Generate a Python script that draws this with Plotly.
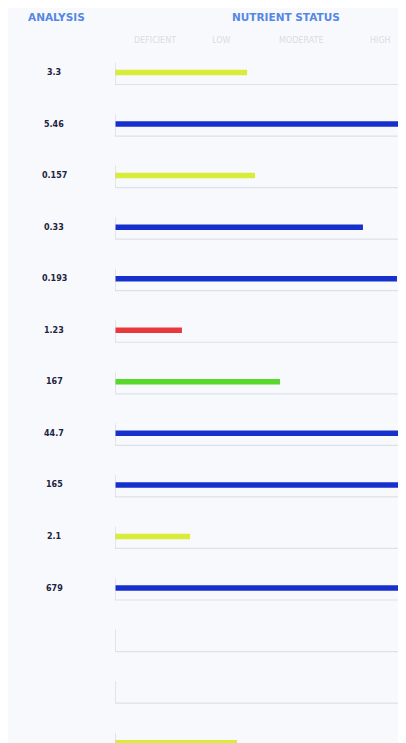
import plotly.graph_objects as go

analysis_labels = ["3.3", "5.46", "0.157", "0.33", "0.193", "1.23", "167",
                   "44.7", "165", "2.1", "679", "", "", ""]
status_values = [45.4, 100, 48.1, 85.2, 96.9, 23.0, 56.7,
                 100, 100, 25.8, 100, None, None, 41.9]
status_levels = ["low", "high", "low", "high", "high", "deficient", "moderate",
                 "high", "high", "low", "high", None, None, "low"]
scale_labels = ["DEFICIENT", "LOW", "MODERATE", "HIGH"]
scale_pos = [13.7, 36.4, 63.9, 91.4]

level_colors = {"low": "#d8ec3a", "high": "#1530cc", "deficient": "#e8383c",
                "moderate": "#58d82a"}

OFF = 8  # page body margin
W, H = 406 - 2 * OFF, 743 - OFF
rows = list(range(len(analysis_labels)))
px_row = 51.55
px_per_unit = 2.91
top_px = 72.5 - OFF
y_top = -top_px / px_row
y_bot = (H - top_px) / px_row
off_base = 12 / px_row
off_tick = -10 / px_row
plot_left = 115 - OFF
x_max = (W - plot_left) / px_per_unit

fig = go.Figure()

bx, by = [], []
for r in rows:
    bx += [0, 100, None]
    by += [r + off_base, r + off_base, None]
fig.add_trace(go.Scatter(x=bx, y=by, mode="lines",
                         line=dict(color="#dde1ea", width=1.2),
                         hoverinfo="skip", showlegend=False))
tx, ty = [], []
for r in rows:
    tx += [0, 0, None]
    ty += [r + off_tick, r + off_base, None]
fig.add_trace(go.Scatter(x=tx, y=ty, mode="lines",
                         line=dict(color="#d2d6e0", width=1.2),
                         hoverinfo="skip", showlegend=False))

bar_rows = [r for r in rows if status_values[r] is not None]
fig.add_trace(go.Bar(
    x=[status_values[r] for r in bar_rows],
    y=bar_rows,
    orientation="h",
    width=5.5 / px_row,
    marker=dict(color=[level_colors[status_levels[r]] for r in bar_rows],
                line=dict(width=0)),
    showlegend=False, hoverinfo="skip"))

x0 = plot_left / W
annotations = []
for r, lab in zip(rows, analysis_labels):
    if lab:
        annotations.append(dict(
            x=(54 - OFF) / W, xref="paper", y=r, yref="y", text="<b>" + lab + "</b>",
            showarrow=False, xanchor="center", yanchor="middle",
            font=dict(family="DejaVu Sans", size=8, color="#1d2340")))

annotations.append(dict(x=(56 - OFF) / W, xref="paper", y=1 - (17 - OFF) / H, yref="paper",
                        text="<b>ANALYSIS</b>", showarrow=False,
                        xanchor="center", yanchor="middle",
                        font=dict(family="DejaVu Sans", size=10.5, color="#5587e4")))
annotations.append(dict(x=(286 - OFF) / W, xref="paper", y=1 - (17 - OFF) / H, yref="paper",
                        text="<b>NUTRIENT STATUS</b>", showarrow=False,
                        xanchor="center", yanchor="middle",
                        font=dict(family="DejaVu Sans", size=10.5, color="#5587e4")))
for lab, p in zip(scale_labels, scale_pos):
    annotations.append(dict(x=p, xref="x", y=1 - (40 - OFF) / H, yref="paper",
                            text=lab, showarrow=False,
                            xanchor="center", yanchor="middle",
                            font=dict(family="DejaVu Sans", size=8, color="#d8dce6")))

fig.update_layout(
    width=W, height=H,
    margin=dict(l=0, r=0, t=0, b=0),
    paper_bgcolor="#f8f9fd", plot_bgcolor="#f8f9fd",
    barmode="overlay",
    xaxis=dict(domain=[x0, 1], range=[0, x_max], showgrid=False, zeroline=False,
               showticklabels=False, fixedrange=True),
    yaxis=dict(range=[y_bot, y_top], showgrid=False, zeroline=False,
               showticklabels=False, fixedrange=True),
    annotations=annotations,
)

fig.write_html("out.html")
